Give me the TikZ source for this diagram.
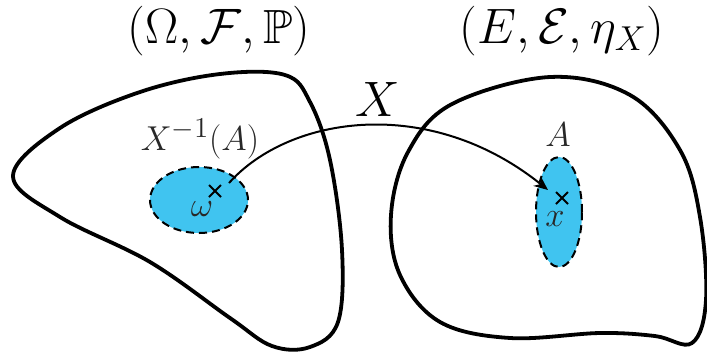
\documentclass[tikz,border=0pt]{standalone}
\usepackage{amssymb}
\usetikzlibrary{shapes.geometric,shapes.misc,arrows.meta}
\definecolor{setblue}{RGB}{64,196,240}
\definecolor{labgray}{RGB}{40,40,40}
\tikzset{
  blob/.style={line width=1.9pt, line join=round},
  subset/.style={ellipse, draw, dashed, line width=1pt, fill=setblue, dash pattern=on 4pt off 2.5pt, inner sep=0pt},
  pt/.style={cross out, draw, line width=1pt, minimum size=5pt, inner sep=0pt},
  title/.style={font=\fontsize{24}{28}\selectfont, inner sep=0pt},
  lab/.style={font=\fontsize{19}{23}\selectfont, text=labgray},
  maparrow/.style={line width=1pt, -{Stealth[length=7pt,width=6pt]}}
}
\begin{document}
\begin{tikzpicture}[x=0.5pt,y=-0.5pt]
\useasboundingbox (0,0) rectangle (707,355);
% left space Omega
\draw[blob] plot[smooth cycle, tension=0.6] coordinates {
 (13,176) (60,128) (140,92) (220,74) (285,75) (310,102) (330,160) (342,250)
 (338,322) (310,347) (272,346) (230,318) (150,262) (60,217)};
% right space E
\draw[blob] plot[smooth cycle, tension=0.6] coordinates {
 (550,77) (630,95) (680,150) (700,217) (706,300) (692,343) (655,336)
 (600,333) (510,338) (440,322) (400,275) (391,215) (408,152) (452,104)};
% subsets
\node[subset, minimum width=98pt*0.5, minimum height=66pt*0.5] (preA) at (199,200) {};
\node[subset, minimum width=46pt*0.5, minimum height=110pt*0.5] (A) at (559,212) {};
% points
\node[pt] (omega) at (215,191) {};
\node[pt] (x) at (562,198) {};
\node[lab] (omegal) at (202,209) {$\omega$};
\node[lab] (xl) at (555,219) {$x$};
% labels
\node[lab] (preAl) at (200,139) {$X^{-1}(A)$};
\node[lab] (Al) at (558,135) {$A$};
\node[title] (t1) at (219,31) {$(\Omega,\mathcal{F},\mathbb{P})$};
\node[title] (t2) at (562,31) {$(E,\mathcal{E},\eta_X)$};
% map
\coordinate (start) at (229,183);
\coordinate (tip) at (548,190);
\draw[maparrow] (start) .. controls (290,115) and (430,95) .. (tip);
\node[title] (Xl) at (378,99) {$X$};
\end{tikzpicture}
\end{document}
